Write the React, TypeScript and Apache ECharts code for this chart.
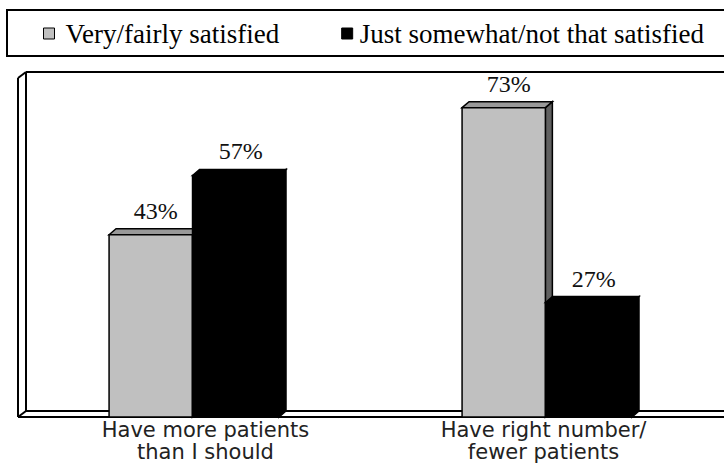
import React, { useEffect, useRef } from "react";
import * as echarts from "echarts";

const categories = ["Have more patients\nthan I should", "Have right number/\nfewer patients"];
const seriesNames = ["Very/fairly satisfied", "Just somewhat/not that satisfied"];
const satisfied = [43, 73];
const notSatisfied = [57, 27];
const axisMin = 0;
const axisMax = 80;

const DX = 7;
const DY = -6;

function makeRender(front: string, top: string, side: string, stroke: string, offsetFrac: number, widthFrac: number) {
  return (params: any, api: any) => {
    const cat = api.value(0);
    const val = api.value(1);
    const pTop = api.coord([cat, val]);
    const pBase = api.coord([cat, 0]);
    const catW = api.size([1, 0])[0];
    const x = pTop[0] + offsetFrac * catW;
    const w = widthFrac * catW;
    const yT = pTop[1];
    const yB = pBase[1];
    const lw = 1.5;
    return {
      type: "group",
      children: [
        {
          type: "polygon",
          shape: { points: [[x + w, yT], [x + w + DX, yT + DY], [x + w + DX, yB + DY], [x + w, yB]] },
          style: { fill: side, stroke, lineWidth: lw },
        },
        {
          type: "polygon",
          shape: { points: [[x, yT], [x + DX, yT + DY], [x + w + DX, yT + DY], [x + w, yT]] },
          style: { fill: top, stroke, lineWidth: lw },
        },
        {
          type: "rect",
          shape: { x, y: yT, width: w, height: yB - yT },
          style: { fill: front, stroke, lineWidth: lw },
        },
        {
          type: "text",
          x: x + w / 2 + 5,
          y: yT + DY - 6,
          style: {
            text: val + "%",
            align: "center",
            verticalAlign: "bottom",
            font: '24px "Liberation Serif"',
            fill: "#111",
          },
        },
      ],
    };
  };
}

export default function App() {
  const ref = useRef<HTMLDivElement>(null);
  useEffect(() => {
    const chart = echarts.init(ref.current!, null, { renderer: "svg" });
    const frame = { stroke: "#000", lineWidth: 2 };
    chart.setOption({
      animation: false,
      backgroundColor: "#fff",
      grid: { left: 18, right: -5, top: 78, bottom: 50, containLabel: false },
      legend: {
        data: [
          { name: seriesNames[0], textStyle: { padding: [0, 0, 0, 6] } },
          { name: seriesNames[1], textStyle: { padding: [0, 0, 0, 2] } },
        ],
        left: 43,
        top: 20,
        padding: 0,
        icon: "rect",
        itemWidth: 11,
        itemHeight: 11,
        itemGap: 62,
        textStyle: { fontFamily: "Liberation Serif", fontSize: 27, color: "#000" },
        itemStyle: { borderColor: "#000", borderWidth: 1 },
      },
      xAxis: {
        type: "category",
        data: [
          { value: categories[0], textStyle: { padding: [0, 0, 0, 22] } },
          { value: categories[1], textStyle: { padding: [0, 8, 0, 0] } },
        ],
        axisLine: { show: false },
        axisTick: { show: false },
        splitLine: { show: false },
        axisLabel: {
          interval: 0,
          margin: 2,
          fontFamily: "DejaVu Sans",
          fontSize: 21,
          lineHeight: 22,
          color: "#222",
        },
      },
      yAxis: {
        type: "value",
        min: axisMin,
        max: axisMax,
        show: false,
        splitLine: { show: false },
      },
      graphic: [
        { type: "rect", z: 1, shape: { x: 7, y: 10, width: 740, height: 46 }, style: { fill: "none", ...frame } },
        { type: "line", z: 1, shape: { x1: 26, y1: 72, x2: 740, y2: 72 }, style: frame },
        { type: "line", z: 1, shape: { x1: 26, y1: 72, x2: 26, y2: 411 }, style: frame },
        { type: "line", z: 1, shape: { x1: 26, y1: 411, x2: 740, y2: 411 }, style: frame },
        { type: "line", z: 1, shape: { x1: 18, y1: 78, x2: 18, y2: 417 }, style: frame },
        { type: "line", z: 1, shape: { x1: 18, y1: 417, x2: 740, y2: 417 }, style: frame },
        { type: "line", z: 1, shape: { x1: 18, y1: 78, x2: 26, y2: 72 }, style: frame },
        { type: "line", z: 1, shape: { x1: 18, y1: 417, x2: 26, y2: 411 }, style: frame },
      ],
      series: [
        {
          name: seriesNames[0],
          type: "custom",
          z: 5,
          itemStyle: { color: "#C0C0C0", borderColor: "#000", borderWidth: 1 },
          renderItem: makeRender("#C0C0C0", "#999999", "#606060", "#000", -0.242, 0.236),
          data: satisfied.map((v, i) => [i, v]),
        },
        {
          name: seriesNames[1],
          type: "custom",
          z: 5,
          itemStyle: { color: "#000", borderColor: "#000", borderWidth: 1 },
          renderItem: makeRender("#000", "#000", "#000", "#000", -0.0056, 0.245),
          data: notSatisfied.map((v, i) => [i, v]),
        },
      ],
    });
    return () => chart.dispose();
  }, []);
  return (
    <div
      ref={ref}
      style={{ position: "fixed", left: 0, top: 0, width: 724, height: 467, background: "#fff" }}
    />
  );
}
